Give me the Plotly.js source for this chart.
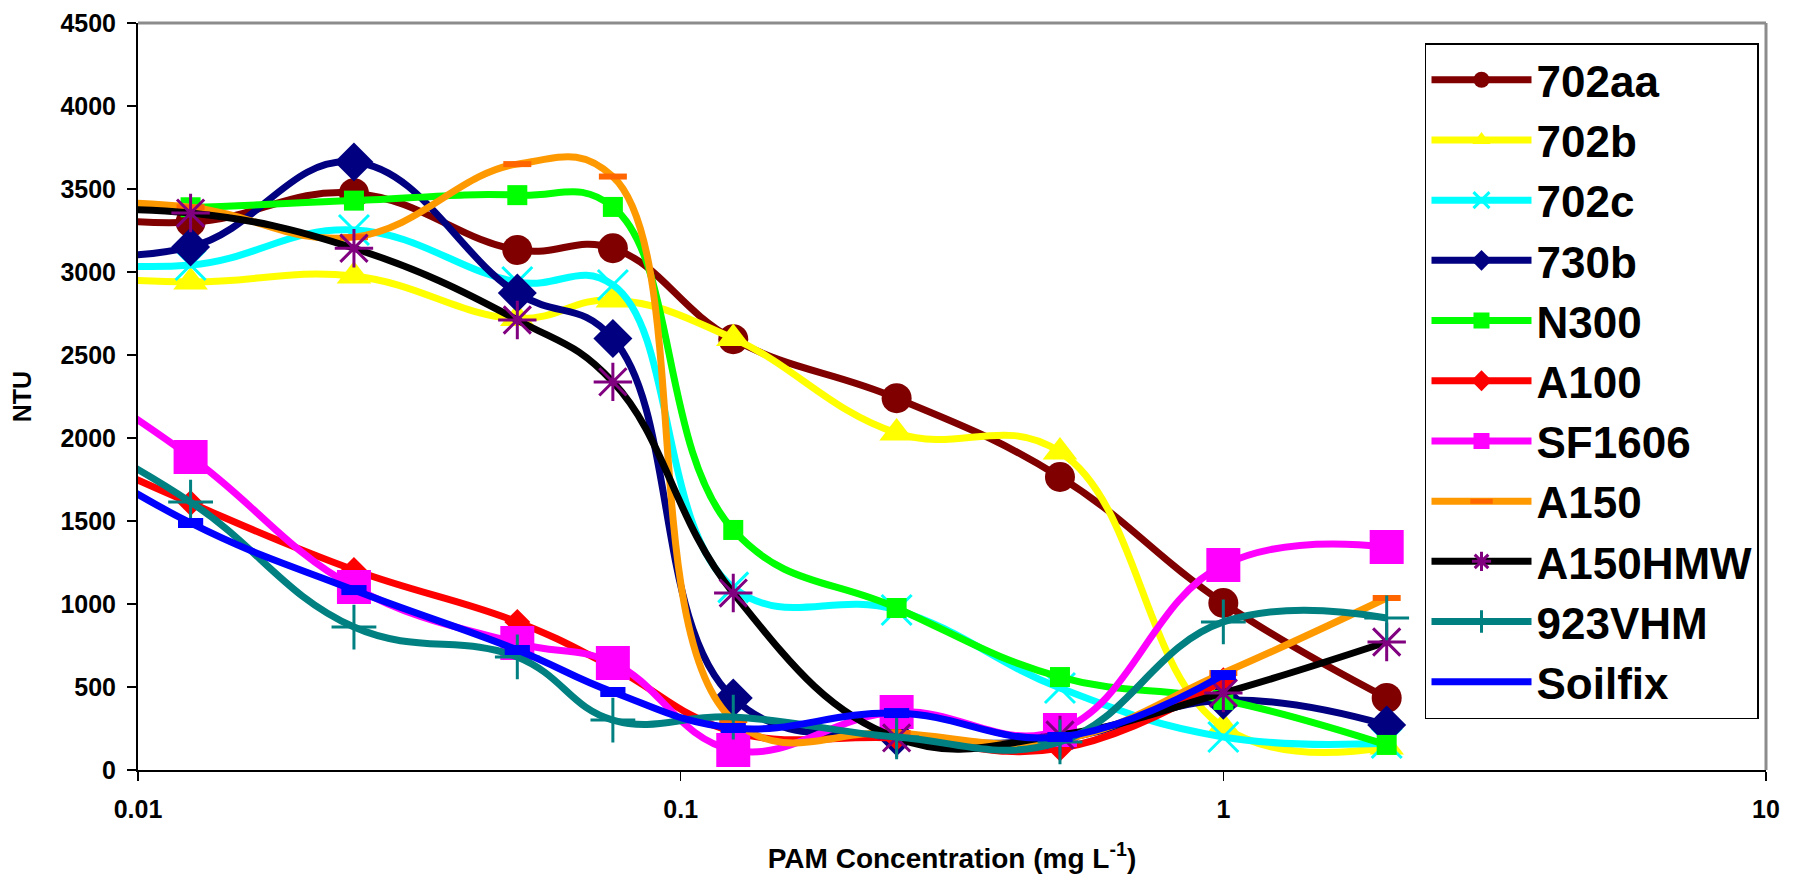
<!DOCTYPE html>
<html>
<head>
<meta charset="utf-8">
<script src="https://cdn.plot.ly/plotly-3.0.1.min.js"></script>
<style>
  html, body { margin: 0; padding: 0; background: #ffffff; }
  #chart { width: 1798px; height: 882px; }
</style>
</head>
<body>
<div id="chart"></div>
<script>
// PAM concentration (mg/L) at which turbidity was measured
const conc = [0.00625, 0.0125, 0.025, 0.05, 0.075, 0.125, 0.25, 0.5, 1, 2];
const concSoilfix = [0.00625, 0.0125, 0.025, 0.05, 0.075, 0.125, 0.25, 0.5, 1];

// Turbidity (NTU) for each polymer
const ntu702aa   = [3380, 3300, 3475, 3133, 3143, 2595, 2240, 1765, 1006, 434];
const ntu702b    = [2990, 2940, 2976, 2720, 2831, 2600, 2030, 1916, 259, 139];
const ntu702c    = [3090, 3042, 3253, 2940, 2922, 1100, 964, 494, 199, 163];
const ntu730b    = [3140, 3151, 3663, 2873, 2600, 434, 200, 190, 420, 271];
const ntuN300    = [3380, 3390, 3430, 3463, 3392, 1446, 976, 560, 422, 151];
const ntuA100    = [2050, 1608, 1205, 892, 620, 230, 193, 130, 540];
const ntuSF1606  = [2540, 1886, 1102, 765, 645, 120, 349, 241, 1235, 1343];
const ntuA150    = [3420, 3390, 3210, 3650, 3575, 300, 223, 181, 584, 1036];
const ntuA150HMW = [3360, 3355, 3143, 2711, 2338, 1066, 193, 211, 464, 771];
const ntu923VHM  = [2170, 1614, 861, 681, 301, 319, 199, 169, 892, 916];
const ntuSoilfix = [2080, 1488, 1084, 723, 470, 253, 343, 199, 572];

const seriesNames = ['702aa', '702b', '702c', '730b', 'N300', 'A100', 'SF1606', 'A150', 'A150HMW', '923VHM', 'Soilfix'];

// Axis tick labels
const xTickVals = [0.01, 0.1, 1, 10];
const xTickText = ['0.01', '0.1', '1', '10'];

const FONT = 'Liberation Sans, Arial, sans-serif';

function series(i, x, y, lineColor, marker) {
  return {
    type: 'scatter',
    mode: 'lines+markers',
    name: seriesNames[i],
    legendgroup: 'g' + i,
    x: x,
    y: y,
    line: { color: lineColor, width: 7, shape: 'spline', smoothing: 1.2 },
    marker: marker,
    cliponaxis: true
  };
}

const traces = [
  series(0, conc, ntu702aa, '#800000', { symbol: 'circle', size: 30, color: '#800000' }),
  series(1, conc, ntu702b, '#ffff00', { symbol: 'triangle-up', size: 30, color: '#ffff00' }),
  series(2, conc, ntu702c, '#00ffff', { symbol: 'x-thin', size: 30, color: '#00ffff', line: { color: '#00ffff', width: 3 } }),
  series(3, conc, ntu730b, '#000080', { symbol: 'diamond', size: 30, color: '#000080' }),
  series(4, conc, ntuN300, '#00ff00', { symbol: 'square', size: 20, color: '#00ff00' }),
  series(5, concSoilfix, ntuA100, '#ff0000', { symbol: 'diamond', size: 20, color: '#ff0000' }),
  series(6, conc, ntuSF1606, '#ff00ff', { symbol: 'square', size: 34, color: '#ff00ff' }),
  series(7, conc, ntuA150, '#ff9900', { symbol: 'line-ew', size: 20, color: '#ff6600', line: { color: '#ff6600', width: 6 } }),
  series(8, conc, ntuA150HMW, '#000000', { symbol: 'asterisk', size: 32, color: '#800080', line: { color: '#800080', width: 3 } }),
  series(9, conc, ntu923VHM, '#008080', { symbol: 'cross-thin', size: 32, color: '#008080', line: { color: '#008080', width: 3 } }),
  series(10, concSoilfix, ntuSoilfix, '#0000ff', { symbol: 'line-ew', size: 18, color: '#0000ff', line: { color: '#0000ff', width: 10 } })
];

const layout = {
  width: 1798,
  height: 882,
  paper_bgcolor: '#ffffff',
  plot_bgcolor: '#ffffff',
  margin: { l: 138, r: 32, t: 23, b: 112, pad: 0 },
  showlegend: true,
  font: { family: FONT, color: '#000000', weight: 'bold' },
  xaxis: {
    type: 'log',
    range: [-2, 1],
    tickvals: xTickVals,
    ticktext: xTickText,
    ticks: 'outside',
    ticklen: 9,
    tickwidth: 1.5,
    tickcolor: '#000000',
    showline: true,
    linecolor: '#000000',
    linewidth: 2,
    showgrid: false,
    zeroline: false,
    ticklabelstandoff: 7,
    tickfont: { family: FONT, size: 25, weight: 'bold', color: '#000000' },
    title: {
      text: 'PAM Concentration (mg L<sup>-1</sup>)',
      font: { family: FONT, size: 28, weight: 'bold', color: '#000000' },
      standoff: 26
    }
  },
  yaxis: {
    range: [0, 4500],
    dtick: 500,
    tick0: 0,
    ticks: 'outside',
    ticklen: 9,
    tickwidth: 1.5,
    tickcolor: '#000000',
    showline: true,
    linecolor: '#000000',
    linewidth: 2,
    showgrid: false,
    zeroline: false,
    ticklabelstandoff: 6,
    tickfont: { family: FONT, size: 25, weight: 'bold', color: '#000000' },
    title: {
      text: 'NTU',
      font: { family: FONT, size: 25, weight: 'bold', color: '#000000' },
      standoff: 22
    }
  },
  legend: {
    x: 0.9957,
    xanchor: 'right',
    y: 0.973,
    yanchor: 'top',
    bgcolor: '#ffffff',
    bordercolor: '#000000',
    borderwidth: 1.5,
    itemwidth: 100,
    tracegroupgap: 10,
    font: { family: FONT, size: 44, weight: 'bold', color: '#000000' },
    traceorder: 'normal'
  },
  shapes: [
    { type: 'line', xref: 'paper', yref: 'paper', x0: 0, x1: 1, y0: 1, y1: 1, line: { color: '#8c8c8c', width: 3 } },
    { type: 'line', xref: 'paper', yref: 'paper', x0: 1, x1: 1, y0: 0, y1: 1, line: { color: '#8c8c8c', width: 3 } }
  ]
};

Plotly.newPlot('chart', traces, layout, { displayModeBar: false, staticPlot: true });
</script>
</body>
</html>
